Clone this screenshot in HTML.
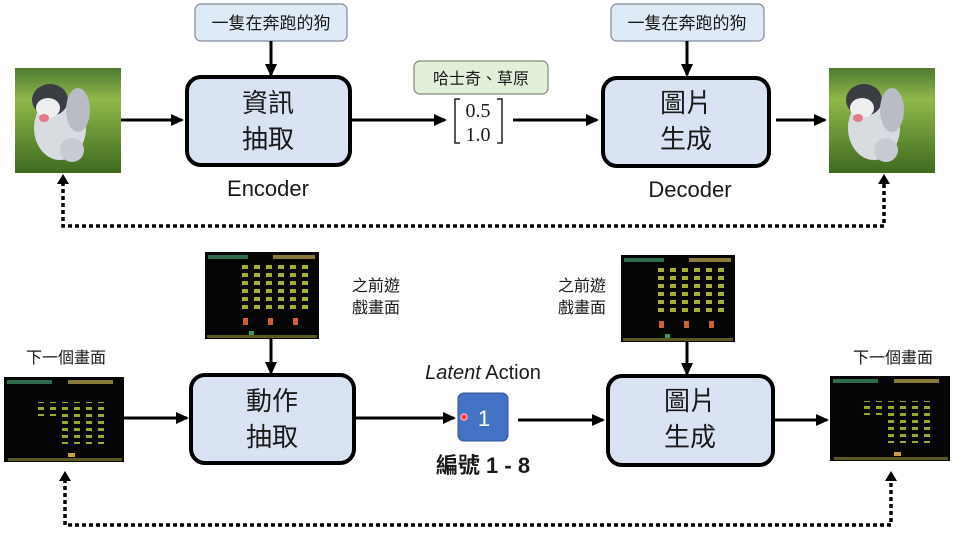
<!DOCTYPE html>
<html><head><meta charset="utf-8"><style>
html,body{margin:0;padding:0;background:#fff;}
svg{display:block;}
text{font-family:"Liberation Sans","Noto Sans CJK TC",sans-serif;fill:#1a1a1a;}
</style></head><body>
<svg width="963" height="536" viewBox="0 0 963 536" xmlns="http://www.w3.org/2000/svg">
<defs>
<marker id="ah" markerWidth="13" markerHeight="13" refX="11" refY="6.5" orient="auto" markerUnits="userSpaceOnUse">
<path d="M0,0.5 L13,6.5 L0,12.5 z" fill="#000"/></marker>
<pattern id="al" x="0" y="0" width="12" height="8" patternUnits="userSpaceOnUse">
<rect x="2" y="1" width="6" height="4" fill="#a8b030"/></pattern>
<pattern id="al2" x="0" y="0" width="12" height="7" patternUnits="userSpaceOnUse">
<rect x="2" y="1" width="6" height="3" fill="#9aa82a"/></pattern>
<linearGradient id="grass" x1="0" y1="0" x2="0" y2="1">
<stop offset="0" stop-color="#4f7a32"/><stop offset="0.3" stop-color="#8fb84a"/><stop offset="1" stop-color="#3f6a1f"/></linearGradient>
</defs>

<g id="dog">
<rect x="15" y="68" width="106" height="105" fill="url(#grass)"/>
<ellipse cx="60" cy="128" rx="26" ry="32" fill="#d8dce0"/>
<ellipse cx="50" cy="100" rx="18" ry="16" fill="#3a3d44"/>
<ellipse cx="48" cy="108" rx="12" ry="10" fill="#eee"/>
<ellipse cx="78" cy="110" rx="12" ry="22" fill="#b8bcc4"/>
<ellipse cx="44" cy="118" rx="5" ry="4" fill="#e37a88"/>
<ellipse cx="72" cy="150" rx="12" ry="12" fill="#c8ccd2"/>
</g>
<use href="#dog" x="814" y="0"/>

<rect x="195" y="4" width="152" height="37" rx="6" fill="#deebf7" stroke="#7f8a99" stroke-width="1.2"/>
<text x="271" y="29" font-size="17" text-anchor="middle">一隻在奔跑的狗</text>
<rect x="611" y="4" width="153" height="37" rx="6" fill="#deebf7" stroke="#7f8a99" stroke-width="1.2"/>
<text x="687" y="29" font-size="17" text-anchor="middle">一隻在奔跑的狗</text>
<line x1="271" y1="41" x2="271" y2="75" stroke="#000" stroke-width="3" marker-end="url(#ah)"/>
<line x1="687" y1="41" x2="687" y2="75" stroke="#000" stroke-width="3" marker-end="url(#ah)"/>

<rect x="187" y="77" width="163" height="88" rx="14" fill="#dae3f3" stroke="#000" stroke-width="4"/>
<text x="268" y="112" font-size="26" text-anchor="middle">資訊</text>
<text x="268" y="148" font-size="26" text-anchor="middle">抽取</text>
<text x="268" y="196" font-size="22" text-anchor="middle">Encoder</text>
<rect x="603" y="78" width="166" height="88" rx="14" fill="#dae3f3" stroke="#000" stroke-width="4"/>
<text x="686" y="112" font-size="26" text-anchor="middle">圖片</text>
<text x="686" y="148" font-size="26" text-anchor="middle">生成</text>
<text x="690" y="197" font-size="22" text-anchor="middle">Decoder</text>

<line x1="121" y1="120" x2="182" y2="120" stroke="#000" stroke-width="3" marker-end="url(#ah)"/>
<line x1="351" y1="120" x2="445" y2="120" stroke="#000" stroke-width="3" marker-end="url(#ah)"/>
<line x1="513" y1="120" x2="597" y2="120" stroke="#000" stroke-width="3" marker-end="url(#ah)"/>
<line x1="776" y1="120" x2="825" y2="120" stroke="#000" stroke-width="3" marker-end="url(#ah)"/>

<rect x="414" y="61" width="134" height="33" rx="6" fill="#e2f0d9" stroke="#7f8a77" stroke-width="1.2"/>
<text x="481" y="84" font-size="16" text-anchor="middle">哈士奇、草原</text>
<path d="M460,99 L455,99 L455,143 L460,143 M497,99 L502,99 L502,143 L497,143" fill="none" stroke="#222" stroke-width="1.5"/>
<text x="478" y="117" font-size="20" text-anchor="middle" style="font-family:'Liberation Serif',serif">0.5</text>
<text x="478" y="141" font-size="20" text-anchor="middle" style="font-family:'Liberation Serif',serif">1.0</text>

<polyline points="63,182 63,226 884,226 884,182" fill="none" stroke="#000" stroke-width="3.5" stroke-dasharray="4,3"/>
<path d="M57,184 L63,174 L69,184 z M878,184 L884,174 L890,184 z" fill="#000"/>

<g id="g1">
<rect x="205" y="252" width="114" height="87" fill="#050505"/>
<rect x="208" y="255" width="40" height="4" fill="#2e6b4a"/>
<rect x="273" y="255" width="42" height="4" fill="#8a7a3a"/>
<rect x="236" y="262" width="72" height="48" fill="url(#al)"/>
<rect x="243" y="318" width="5" height="7" fill="#d06030"/>
<rect x="268" y="318" width="5" height="7" fill="#d06030"/>
<rect x="293" y="318" width="5" height="7" fill="#d06030"/>
<rect x="207" y="335" width="110" height="3" fill="#5a5a20"/>
<rect x="249" y="331" width="5" height="4" fill="#3a9a5a"/>
</g>
<use href="#g1" x="416" y="3"/>
<g id="g2">
<rect x="4" y="377" width="120" height="85" fill="#050505"/>
<rect x="7" y="380" width="45" height="4" fill="#2e6b4a"/>
<rect x="68" y="380" width="45" height="4" fill="#8a7a3a"/>
<rect x="36" y="402" width="72" height="14" fill="url(#al2)"/>
<rect x="60" y="416" width="48" height="28" fill="url(#al2)"/>
<rect x="68" y="453" width="7" height="4" fill="#c8a040"/>
<rect x="8" y="458" width="114" height="3" fill="#5a5a20"/>
</g>
<use href="#g2" x="826" y="-1"/>

<text x="352" y="291" font-size="16">之前遊</text>
<text x="352" y="313" font-size="16">戲畫面</text>
<text x="558" y="291" font-size="16">之前遊</text>
<text x="558" y="313" font-size="16">戲畫面</text>
<text x="66" y="363" font-size="16" text-anchor="middle">下一個畫面</text>
<text x="893" y="363" font-size="16" text-anchor="middle">下一個畫面</text>

<line x1="271" y1="339" x2="271" y2="373" stroke="#000" stroke-width="3" marker-end="url(#ah)"/>
<line x1="687" y1="341" x2="687" y2="374" stroke="#000" stroke-width="3" marker-end="url(#ah)"/>

<rect x="191" y="375" width="163" height="88" rx="14" fill="#dae3f3" stroke="#000" stroke-width="4"/>
<text x="272" y="410" font-size="26" text-anchor="middle">動作</text>
<text x="272" y="446" font-size="26" text-anchor="middle">抽取</text>
<rect x="608" y="376" width="165" height="89" rx="14" fill="#dae3f3" stroke="#000" stroke-width="4"/>
<text x="690" y="410" font-size="26" text-anchor="middle">圖片</text>
<text x="690" y="446" font-size="26" text-anchor="middle">生成</text>

<line x1="124" y1="418" x2="187" y2="418" stroke="#000" stroke-width="3" marker-end="url(#ah)"/>
<line x1="355" y1="418" x2="454" y2="418" stroke="#000" stroke-width="3" marker-end="url(#ah)"/>
<line x1="518" y1="420" x2="603" y2="420" stroke="#000" stroke-width="3" marker-end="url(#ah)"/>
<line x1="775" y1="420" x2="827" y2="420" stroke="#000" stroke-width="3" marker-end="url(#ah)"/>

<text x="483" y="379" font-size="20" text-anchor="middle"><tspan font-style="italic">Latent</tspan>  Action</text>
<rect x="458" y="393" width="50" height="48" rx="6" fill="#4472c4" stroke="#2f528f" stroke-width="1"/>
<text x="484" y="426" font-size="22" style="fill:#fff" text-anchor="middle">1</text>
<circle cx="464" cy="417" r="3" fill="#ff3030" stroke="#ffaaaa" stroke-width="1.5"/>
<text x="483" y="473" font-size="22" font-weight="bold" text-anchor="middle">編號 1 - 8</text>

<polyline points="65,479 65,525 891,525 891,479" fill="none" stroke="#000" stroke-width="3.5" stroke-dasharray="4,3"/>
<path d="M59,481 L65,471 L71,481 z M885,481 L891,471 L897,481 z" fill="#000"/>
</svg>
</body></html>
